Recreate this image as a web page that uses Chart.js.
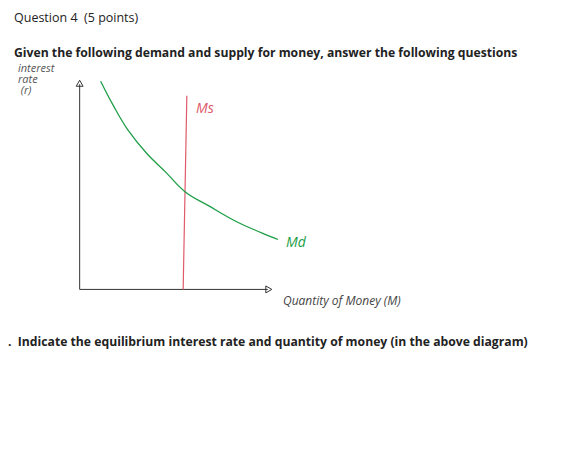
<!DOCTYPE html>
<html>
<head>
<meta charset="utf-8">
<script src="https://cdn.jsdelivr.net/npm/chart.js@4/dist/chart.umd.min.js"></script>
<style>
  body { margin: 0; background: #fff; width: 587px; height: 452px; position: relative; overflow: hidden; font-family: "Open Sans", "Liberation Sans", sans-serif; }
  .t { position: absolute; white-space: nowrap; }
  #wrap { position: absolute; left: 65px; top: 62px; width: 240px; height: 240px; }
</style>
</head>
<body>
<div class="t" style="left:14px;top:9px;font-size:12.5px;color:#222;">Question 4&nbsp; (5 points)</div>
<div class="t" style="left:14px;top:44px;font-size:12.2px;font-weight:bold;color:#222;">Given the following demand and supply for money, answer the following questions</div>
<div class="t" style="left:18px;top:62px;font-size:11px;color:#555;font-style:italic;line-height:11px;">interest<br>rate<br>&nbsp;(r)</div>
<div class="t" style="left:196px;top:98px;font-size:14px;color:#e05a6a;font-style:italic;">Ms</div>
<div class="t" style="left:286px;top:232px;font-size:14px;color:#1e9e48;font-style:italic;">Md</div>
<div class="t" style="left:283px;top:292px;font-size:12px;color:#444;font-style:italic;">Quantity of Money (M)</div>
<div class="t" style="left:8px;top:333px;font-size:12.2px;font-weight:bold;color:#222;">.&nbsp; Indicate the equilibrium interest rate and quantity of money (in the above diagram)</div>
<div id="wrap"><canvas id="c"></canvas></div>
<script>
// curve points (x: quantity, y: rate)
const demandX = [1.33, 1.88, 2.5, 3.33, 4.17, 5.0, 6.04, 7.29, 8.33, 9.04];
const demandY = [9.38, 8.33, 7.29, 6.25, 5.42, 4.58, 3.96, 3.25, 2.79, 2.5];
const supplyX = [5.08, 4.92];
const supplyY = [8.75, 0.33];
const yAxisX = [0.42, 0.42];
const yAxisY = [0.33, 9.25];
const xAxisX = [0.42, 8.6];
const xAxisY = [0.33, 0.33];

function pts(xs, ys) { return xs.map((x, i) => ({ x: x, y: ys[i] })); }

new Chart(document.getElementById("c"), {
    type: "scatter",
    data: {
        datasets: [
            { data: pts(demandX, demandY), showLine: true, borderColor: "#1e9e48", borderWidth: 1.3, pointRadius: 0, tension: 0.4 },
            { data: pts(supplyX, supplyY), showLine: true, borderColor: "#e05a6a", borderWidth: 1.2, pointRadius: 0 },
            { data: pts(yAxisX, yAxisY), showLine: true, borderColor: "#333", borderWidth: 1, pointRadius: 0 },
            { data: pts(xAxisX, xAxisY), showLine: true, borderColor: "#333", borderWidth: 1, pointRadius: 0 },
            { data: [{ x: 8.6, y: 0.33 }], pointStyle: "triangle", rotation: 90, pointRadius: 4, borderColor: "#333", backgroundColor: "#fff", borderWidth: 1 },
            { data: [{ x: 0.42, y: 9.25 }], pointStyle: "triangle", pointRadius: 4, borderColor: "#333", backgroundColor: "#fff", borderWidth: 1 }
        ]
    },
    options: {
        responsive: true,
        maintainAspectRatio: false,
        animation: false,
        layout: { padding: 0 },
        plugins: { legend: { display: false }, tooltip: { enabled: false } },
        scales: {
            x: { display: false, min: 0, max: 10 },
            y: { display: false, min: 0, max: 10 }
        }
    }
});
</script>
</body>
</html>
